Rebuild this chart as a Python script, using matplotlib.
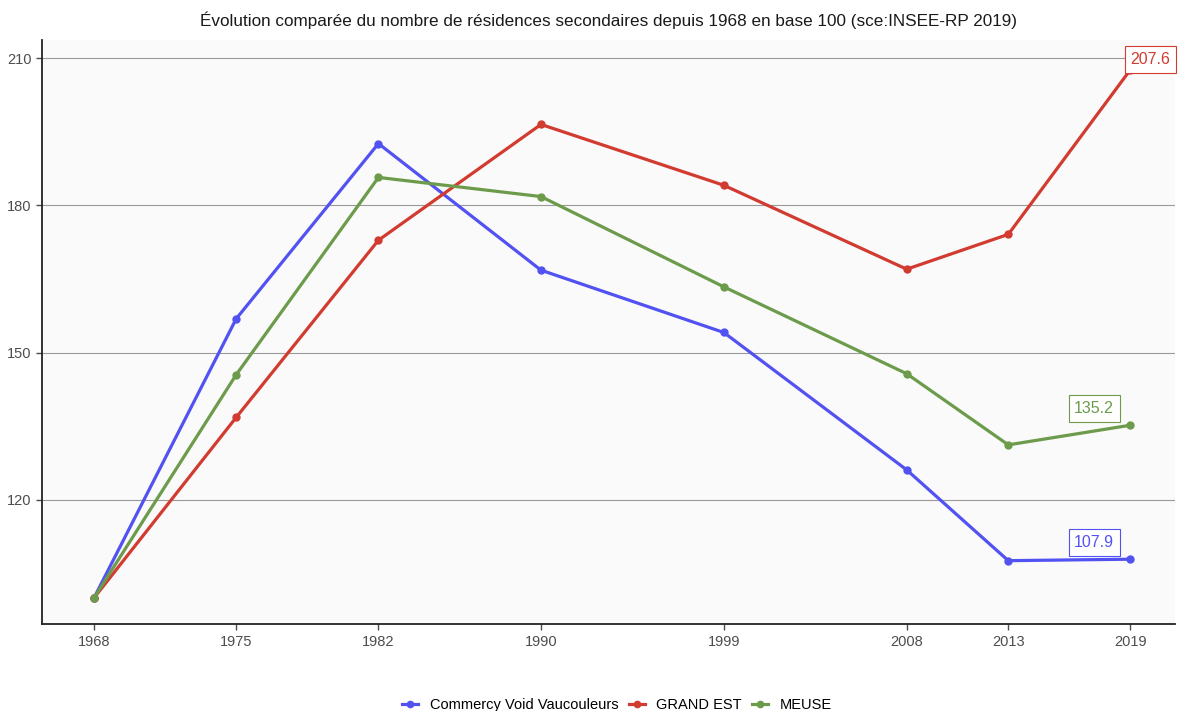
import matplotlib
matplotlib.use("Agg")
import matplotlib.pyplot as plt

years = [1968, 1975, 1982, 1990, 1999, 2008, 2013, 2019]
commercy = [100, 156.9, 192.6, 166.8, 154.1, 126.1, 107.6, 107.9]
grand_est = [100, 136.8, 172.9, 196.5, 184.1, 167.0, 174.1, 207.6]
meuse = [100, 145.5, 185.7, 181.8, 163.4, 145.7, 131.2, 135.2]
series_names = ["Commercy Void Vaucouleurs", "GRAND EST", "MEUSE"]
y_ticks = [120, 150, 180, 210]

colors = ["#5252F2", "#D13B30", "#6B9B4B"]
label_offsets = [(-26, 12), (14.5, 7.5), (-26, 12)]

plt.rcParams['font.family'] = ['Liberation Sans', 'DejaVu Sans']
fig = plt.figure(figsize=(11.82, 7.11), dpi=100)
ax = fig.add_axes([0.0355, 0.1224, 0.9585, 0.8213])
ax.set_facecolor("#FAFAFA")

for vals, name, c, off in zip([commercy, grand_est, meuse], series_names, colors, label_offsets):
    ax.plot(years, vals, color=c, lw=2.3, marker="o", ms=5, label=name, zorder=3)
    ax.annotate(f"{vals[-1]:.1f}", xy=(years[-1], vals[-1]), xytext=off,
                textcoords="offset points", ha="center", va="center",
                color=c, fontsize=11.5,
                bbox=dict(boxstyle="square,pad=0.35", fc="white", ec=c, lw=0.8),
                zorder=4)

ax.set_xlim(1965.44, 2021.2)
ax.set_ylim(94.7, 213.7)
ax.set_xticks(years)
ax.set_yticks(y_ticks)
ax.grid(axis="y", color="#9A9A9A", lw=0.8)
ax.grid(axis="x", visible=False)
ax.set_axisbelow(True)
for s in ["top", "right"]:
    ax.spines[s].set_visible(False)
for s in ["left", "bottom"]:
    ax.spines[s].set_color("#222222")
    ax.spines[s].set_linewidth(1.3)
ax.tick_params(colors="#4D4D4D", labelsize=10.5, length=4, width=1)
ax.tick_params(axis="x", pad=4)

ax.set_title("Évolution comparée du nombre de résidences secondaires depuis 1968 en base 100 (sce:INSEE-RP 2019)",
             fontsize=12.3, color="#1A1A1A", pad=10)

fig.legend(loc="lower center", bbox_to_anchor=(0.522, -0.02), ncol=3, frameon=False,
           fontsize=10.5, handlelength=1.1, handletextpad=0.8, columnspacing=0.7,
           markerscale=0.9)

fig.savefig("out.png", dpi=100)
